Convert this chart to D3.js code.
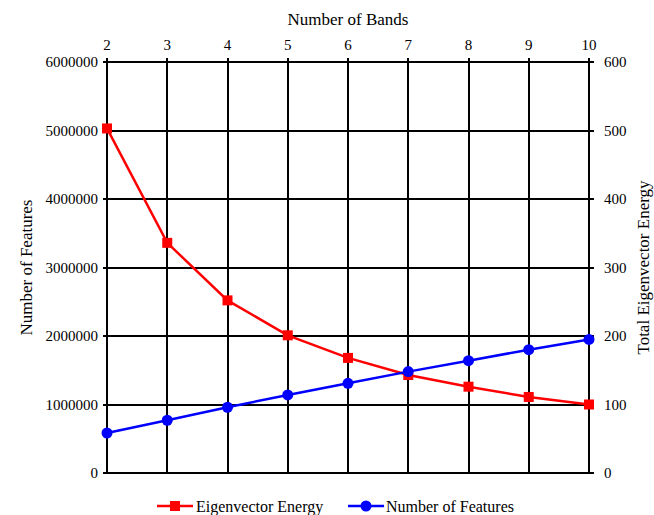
<!DOCTYPE html>
<html>
<head>
<meta charset="utf-8">
<script src="https://cdn.jsdelivr.net/npm/d3@7"></script>
<style>
	body { margin: 0; background: #fff; }
	svg text { fill: #000; }
</style>
</head>
<body>
<div id="chart"></div>
<script>
// Chart data
const bands = [2, 3, 4, 5, 6, 7, 8, 9, 10];
const eigenEnergy = [503, 336, 252, 201, 168, 143, 126, 111, 100];
const numFeatures = [584000, 770000, 960000, 1140000, 1310000, 1480000, 1640000, 1800000, 1950000];
const leftTicks = [0, 1000000, 2000000, 3000000, 4000000, 5000000, 6000000];
const rightTicks = [0, 100, 200, 300, 400, 500, 600];

const width = 654;
const height = 515;
const marginLeft = 107;
const marginRight = 65;
const marginTop = 62;
const marginBottom = 42;
const serif = "'Liberation Serif', 'Times New Roman', 'DejaVu Serif', serif";

const svg = d3.select('#chart')
	.append('svg')
	.attr('width', width)
	.attr('height', height)
	.style('font-family', serif);

const x = d3.scaleLinear()
	.domain([2, 10])
	.range([marginLeft, width - marginRight]);
const yLeft = d3.scaleLinear()
	.domain([0, 6000000])
	.range([height - marginBottom, marginTop]);
const yRight = d3.scaleLinear()
	.domain([0, 600])
	.range([height - marginBottom, marginTop]);

// Grid
const grid = svg.append('g')
	.attr('stroke', '#000')
	.attr('stroke-width', 2)
	.attr('shape-rendering', 'crispEdges');
grid.selectAll('.v')
	.data(bands)
	.enter()
	.append('line')
	.attr('x1', (d) => x(d))
	.attr('x2', (d) => x(d))
	.attr('y1', yLeft(0))
	.attr('y2', marginTop - 4);
grid.selectAll('.h')
	.data(leftTicks)
	.enter()
	.append('line')
	.attr('x1', marginLeft - 4)
	.attr('x2', width - marginRight + 5)
	.attr('y1', (d) => yLeft(d))
	.attr('y2', (d) => yLeft(d));

// Axes labels
const fmt = d3.format('d');
svg.append('g')
	.selectAll('text')
	.data(leftTicks)
	.enter()
	.append('text')
	.attr('x', marginLeft - 9)
	.attr('y', (d) => yLeft(d))
	.attr('text-anchor', 'end')
	.attr('dominant-baseline', 'central')
	.style('font-family', serif)
	.style('font-size', '15px')
	.text(fmt);

svg.append('g')
	.selectAll('text')
	.data(rightTicks)
	.enter()
	.append('text')
	.attr('x', width - marginRight + 15)
	.attr('y', (d) => yRight(d))
	.attr('text-anchor', 'start')
	.attr('dominant-baseline', 'central')
	.style('font-family', serif)
	.style('font-size', '15px')
	.text(fmt);

svg.append('g')
	.selectAll('text')
	.data(bands)
	.enter()
	.append('text')
	.attr('x', (d) => x(d))
	.attr('y', marginTop - 12)
	.attr('text-anchor', 'middle')
	.style('font-family', serif)
	.style('font-size', '15px')
	.text((d) => d);

// Titles
svg.append('text')
	.attr('x', (x(2) + x(10)) / 2)
	.attr('y', 25)
	.attr('text-anchor', 'middle')
	.style('font-family', serif)
	.style('font-size', '17px')
	.text('Number of Bands');

svg.append('text')
	.attr('transform', 'translate(32,' + yLeft(3000000) + ') rotate(-90)')
	.attr('text-anchor', 'middle')
	.style('font-family', serif)
	.style('font-size', '17px')
	.text('Number of Features');

svg.append('text')
	.attr('transform', 'translate(649,' + yLeft(3000000) + ') rotate(-90)')
	.attr('text-anchor', 'middle')
	.style('font-family', serif)
	.style('font-size', '17px')
	.text('Total Eigenvector Energy');

// Series
const redLine = d3.line()
	.x((d, i) => x(bands[i]))
	.y((d) => yRight(d));
const blueLine = d3.line()
	.x((d, i) => x(bands[i]))
	.y((d) => yLeft(d));

svg.append('path')
	.datum(eigenEnergy)
	.attr('d', redLine)
	.attr('fill', 'none')
	.attr('stroke', '#ff0000')
	.attr('stroke-width', 2.5);

svg.append('path')
	.datum(numFeatures)
	.attr('d', blueLine)
	.attr('fill', 'none')
	.attr('stroke', '#0000ff')
	.attr('stroke-width', 2.5);

svg.append('g')
	.selectAll('rect')
	.data(eigenEnergy)
	.enter()
	.append('rect')
	.attr('x', (d, i) => x(bands[i]) - 5)
	.attr('y', (d) => yRight(d) - 5)
	.attr('width', 10)
	.attr('height', 10)
	.attr('fill', '#ff0000');

svg.append('g')
	.selectAll('circle')
	.data(numFeatures)
	.enter()
	.append('circle')
	.attr('cx', (d, i) => x(bands[i]))
	.attr('cy', (d) => yLeft(d))
	.attr('r', 5.5)
	.attr('fill', '#0000ff');

// Legend
const legendY = 506;
const leg1 = svg.append('g').attr('transform', 'translate(157,' + legendY + ')');
leg1.append('line').attr('x1', 0).attr('x2', 36).attr('stroke', '#ff0000').attr('stroke-width', 2.5);
leg1.append('rect').attr('x', 13).attr('y', -5).attr('width', 10).attr('height', 10).attr('fill', '#ff0000');
leg1.append('text').attr('x', 39).attr('dominant-baseline', 'central')
	.style('font-family', serif).style('font-size', '16px').text('Eigenvector Energy');

const leg2 = svg.append('g').attr('transform', 'translate(348,' + legendY + ')');
leg2.append('line').attr('x1', 0).attr('x2', 36).attr('stroke', '#0000ff').attr('stroke-width', 2.5);
leg2.append('circle').attr('cx', 18).attr('r', 5.5).attr('fill', '#0000ff');
leg2.append('text').attr('x', 38).attr('dominant-baseline', 'central')
	.style('font-family', serif).style('font-size', '16px').text('Number of Features');
</script>
</body>
</html>
